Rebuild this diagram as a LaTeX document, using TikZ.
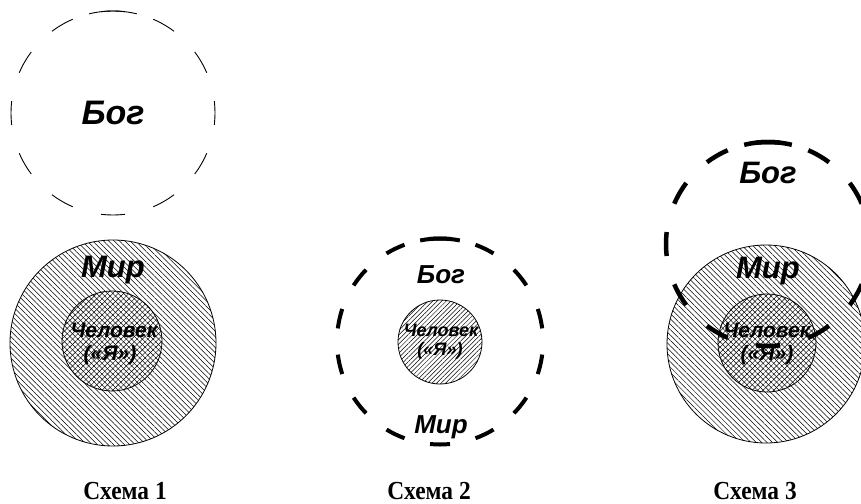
\documentclass[tikz,border=0pt]{standalone}
\usepackage{fontspec}
\setmainfont{Liberation Serif}
\newfontfamily\arialf{Liberation Sans}
\usetikzlibrary{patterns.meta}
\newcommand\myfs[1]{\fontsize{#1}{#1}\selectfont}
\tikzset{
  lbl/.style={font=\arialf\bfseries\itshape, anchor=base, inner sep=0pt},
  caption/.style={font=\bfseries\myfs{26}, anchor=base, inner sep=0pt},
  hatchback/.style={pattern={Lines[angle=-45,distance=3.8pt,line width=0.5pt]}},
  hatchfwd/.style={pattern={Lines[angle=45,distance=3.8pt,line width=0.5pt]}},
  hatchfwdB/.style={pattern={Lines[angle=45,distance=3.2pt,line width=0.5pt]}},
  rim/.style={draw=black, line width=0.8pt},
}
\begin{document}
\begin{tikzpicture}[x=1pt,y=-1pt]
\useasboundingbox (0,0) rectangle (861,503);
\fill[white] (0,0) rectangle (861,503);
% centres
\coordinate (g1) at (113,113);
\coordinate (w1) at (113,343);
\coordinate (h1) at (112,341);
\coordinate (g2) at (440,341.5);
\coordinate (h2) at (440,342);
\coordinate (g3) at (768,244);
\coordinate (w3) at (766,344);
\coordinate (h3) at (767,343);

% ---------- Scheme 1 ----------
\draw[line width=0.9pt, dash pattern=on 24pt off 29.41pt, dash phase=12pt]
  (g1) ++(90:102pt) arc[start angle=90, end angle=450, radius=102pt];
\draw[line width=0.9pt] (g1) ++(76.5:102pt) arc[start angle=76.5, end angle=103.5, radius=102pt];
\fill[hatchback] (w1) circle[radius=103pt];
\draw[rim] (w1) circle[radius=103pt];
\fill[white] (h1) circle[radius=50pt];
\fill[hatchback] (h1) circle[radius=50pt];
\fill[hatchfwd] (h1) circle[radius=50pt];
\draw[rim] (h1) circle[radius=50pt];
\node[lbl, font=\arialf\bfseries\itshape\myfs{34}] (bog1) at (113,124) {Бог};
\node[lbl, font=\arialf\bfseries\itshape\myfs{31}] (mir1) at (113,277) {Мир};
\node[lbl, font=\arialf\bfseries\itshape\myfs{21}] (man1) at (114,337) {Человек};
\node[lbl, font=\arialf\bfseries\itshape\myfs{21}] (ya1) at (110,360) {(«Я»)};

% ---------- Scheme 2 ----------
\fill[white] (h2) circle[radius=42pt];
\fill[hatchfwdB] (h2) circle[radius=42pt];
\draw[rim] (h2) circle[radius=42pt];
\draw[line width=4pt, dash pattern=on 20pt off 26.23pt, dash phase=10pt]
  (g2) ++(90:103pt) arc[start angle=90, end angle=450, radius=103pt];
\draw[line width=4pt] (g2) ++(78.9:103pt) arc[start angle=78.9, end angle=101.1, radius=103pt];
\node[lbl, font=\arialf\bfseries\itshape\myfs{26}] (bog2) at (441,283) {Бог};
\node[lbl, font=\arialf\bfseries\itshape\myfs{26}] (mir2) at (441,433) {Мир};
\node[lbl, font=\arialf\bfseries\itshape\myfs{18}] (man2) at (441,336) {Человек};
\node[lbl, font=\arialf\bfseries\itshape\myfs{18}] (ya2) at (440,355) {(«Я»)};

% ---------- Scheme 3 ----------
\fill[hatchback] (w3) circle[radius=99pt];
\draw[rim] (w3) circle[radius=99pt];
\fill[white] (h3) circle[radius=49pt];
\fill[hatchback] (h3) circle[radius=49pt];
\fill[hatchfwd] (h3) circle[radius=49pt];
\draw[rim] (h3) circle[radius=49pt];
\draw[line width=4.5pt, dash pattern=on 24pt off 29.41pt, dash phase=12pt]
  (g3) ++(90:102pt) arc[start angle=90, end angle=450, radius=102pt];
\draw[line width=4.5pt] (g3) ++(76.5:102pt) arc[start angle=76.5, end angle=103.5, radius=102pt];
\node[lbl, font=\arialf\bfseries\itshape\myfs{31}] (bog3) at (768,183) {Бог};
\node[lbl, font=\arialf\bfseries\itshape\myfs{31}] (mir3) at (768,278) {Мир};
\node[lbl, font=\arialf\bfseries\itshape\myfs{21}] (man3) at (767,337) {Человек};
\node[lbl, font=\arialf\bfseries\itshape\myfs{21}] (ya3) at (767,360) {(«Я»)};

% ---------- Captions ----------
\node[caption] (c1) at (125,499) {\scalebox{0.9}[1]{Схема 1}};
\node[caption] (c2) at (429,499) {\scalebox{0.9}[1]{Схема 2}};
\node[caption] (c3) at (755,499) {\scalebox{0.9}[1]{Схема 3}};
\end{tikzpicture}
\end{document}
